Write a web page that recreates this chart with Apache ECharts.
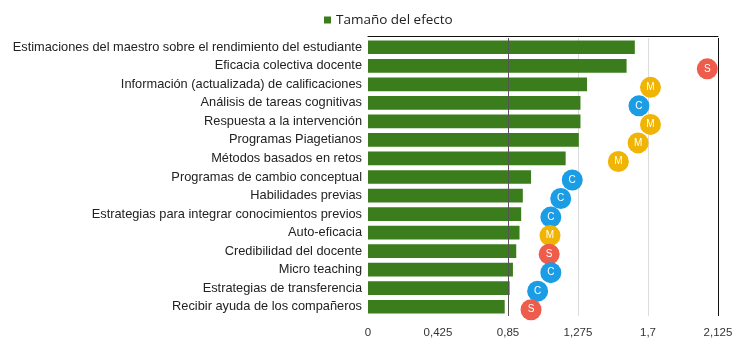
<!DOCTYPE html>
<html>
<head>
<meta charset="utf-8">
<script src="https://cdn.jsdelivr.net/npm/echarts@6/dist/echarts.min.js"></script>
<style>
  html, body { margin: 0; padding: 0; background: #ffffff; }
  #chart { width: 736px; height: 339px; }
</style>
</head>
<body>
<div id="chart"></div>
<script>
// Influences and their effect sizes, top to bottom
const categories = [
  'Estimaciones del maestro sobre el rendimiento del estudiante',
  'Eficacia colectiva docente',
  'Información (actualizada) de calificaciones',
  'Análisis de tareas cognitivas',
  'Respuesta a la intervención',
  'Programas Piagetianos',
  'Métodos basados en retos',
  'Programas de cambio conceptual',
  'Habilidades previas',
  'Estrategias para integrar conocimientos previos',
  'Auto-eficacia',
  'Credibilidad del docente',
  'Micro teaching',
  'Estrategias de transferencia',
  'Recibir ayuda de los compañeros'
];
const effectSizes = [1.62, 1.57, 1.33, 1.29, 1.29, 1.28, 1.20, 0.99, 0.94, 0.93, 0.92, 0.90, 0.88, 0.86, 0.83];

// Lettered markers beside each bar (no marker on the first row)
const markerValues = [null, 2.06, 1.715, 1.645, 1.715, 1.64, 1.52, 1.24, 1.17, 1.11, 1.105, 1.10, 1.11, 1.03, 0.99];
const markerLetters = ['', 'S', 'M', 'C', 'M', 'M', 'M', 'C', 'C', 'C', 'M', 'S', 'C', 'C', 'S'];
const letterColors = { S: '#ee5c4b', M: '#f0b405', C: '#1b9de6' };

const xTicks = [0, 0.425, 0.85, 1.275, 1.7, 2.125];
const seriesName = 'Tamaño del efecto';

const markerData = [];
markerValues.forEach(function (v, i) {
  if (v === null) return;
  markerData.push({
    value: [v, categories[i]],
    letter: markerLetters[i],
    itemStyle: { color: letterColors[markerLetters[i]], opacity: 1 }
  });
});

const labelFont = '"Liberation Sans", Arial, sans-serif';
const legendFont = '"Open Sans", "Liberation Sans", Arial, sans-serif';
const chart = echarts.init(document.getElementById('chart'), null, { renderer: 'canvas' });

chart.setOption({
  animation: false,
  backgroundColor: '#ffffff',
  textStyle: { fontFamily: labelFont },
  legend: {
    data: [seriesName],
    left: 319,
    top: 8,
    icon: 'rect',
    itemWidth: 7,
    itemHeight: 7,
    itemGap: 5,
    textStyle: { fontSize: 13.5, color: '#222', fontFamily: legendFont }
  },
  grid: { left: 368, right: 18, top: 38, bottom: 22 },
  xAxis: [{
    type: 'value',
    min: xTicks[0],
    max: xTicks[xTicks.length - 1],
    interval: xTicks[1],
    axisLine: { show: false },
    axisTick: { show: false },
    axisLabel: {
      fontSize: 11.5,
      color: '#333',
      margin: 11,
      fontFamily: labelFont,
      formatter: function (v) { return String(+v.toFixed(3)).replace('.', ','); }
    },
    splitLine: {
      show: true,
      lineStyle: { color: ['rgba(0,0,0,0)', 'rgba(0,0,0,0)', 'rgba(0,0,0,0)', '#dcdcdc', '#dcdcdc', '#111'], width: 1 }
    }
  }, {
    type: 'value',
    position: 'top',
    offset: 2,
    min: xTicks[0],
    max: xTicks[xTicks.length - 1],
    axisLine: { show: true, lineStyle: { color: '#111', width: 1 } },
    axisTick: { show: false },
    axisLabel: { show: false },
    splitLine: { show: false }
  }],
  yAxis: {
    type: 'category',
    data: categories,
    inverse: true,
    axisLine: { show: false },
    axisTick: { show: false },
    axisLabel: { fontSize: 12.8, color: '#222', margin: 6, fontFamily: labelFont }
  },
  series: [{
    name: seriesName,
    type: 'bar',
    data: effectSizes,
    barCategoryGap: '26%',
    itemStyle: { color: '#3b7d1c' },
    markLine: {
      silent: true,
      symbol: 'none',
      label: { show: false },
      lineStyle: { color: '#555', width: 1, type: 'solid' },
      data: [{ xAxis: xTicks[2] }],
      z: 5
    }
  }, {
    name: 'marcadores',
    type: 'scatter',
    data: markerData,
    symbol: 'circle',
    symbolSize: 21,
    symbolOffset: [0, 3],
    z: 6,
    label: {
      show: true,
      position: 'inside',
      color: '#fff',
      fontSize: 10,
      fontFamily: labelFont,
      formatter: function (p) { return p.data.letter; }
    }
  }]
});
</script>
</body>
</html>
